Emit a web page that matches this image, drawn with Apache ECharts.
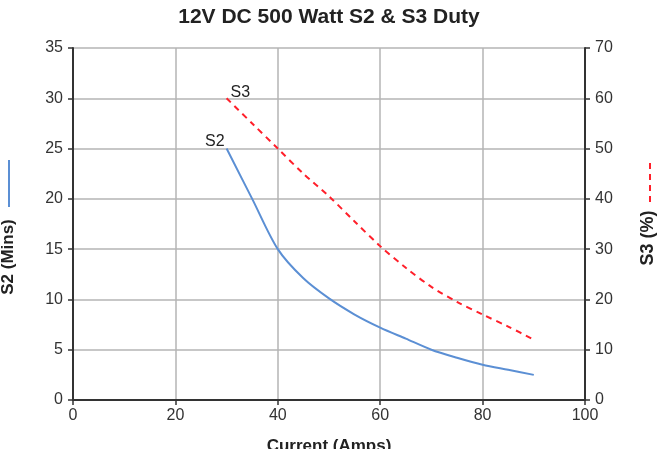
<!DOCTYPE html>
<html><head><meta charset="utf-8">
<script src="https://cdn.jsdelivr.net/npm/echarts@6/dist/echarts.min.js"></script>
<style>html,body{margin:0;padding:0;background:#fff}#c{width:658px;height:449px}</style>
</head><body><div id="c"></div>
<script>
const currentAmps = [30, 35, 40, 45, 50, 55, 60, 65, 70, 75, 80, 85, 90];
const s2Mins =      [25, 20, 15, 12.1, 10.1, 8.5, 7.2, 6.1, 5, 4.2, 3.5, 3, 2.5];
const s3Percent =   [60, 55, 50, 45, 40.5, 35.5, 30.6, 26.3, 22.5, 19.5, 17, 14.6, 12];
const xTicks = [0, 20, 40, 60, 80, 100];
const leftTicks = [0, 5, 10, 15, 20, 25, 30, 35];
const rightTicks = [0, 10, 20, 30, 40, 50, 60, 70];

const chart = echarts.init(document.getElementById('c'));
const font = 'Liberation Sans, Arial, sans-serif';
const s2Color = '#5b8fd4', s3Color = '#ff1f2a';
function pairs(xs, ys){ return xs.map((x,i)=>[x, ys[i]]); }
chart.setOption({
  animation: false,
  title: { text: '12V DC 500 Watt S2 & S3 Duty', left: 'center', top: 2,
    textStyle: { fontFamily: font, fontSize: 21, fontWeight: 'bold', color: '#222' } },
  grid: { left: 73, right: 73, top: 48, bottom: 49, outerBoundsMode: 'none', containLabel: false },
  xAxis: { type: 'value', min: xTicks[0], max: xTicks[xTicks.length-1], interval: 20,
    name: 'Current (Amps)', nameLocation: 'middle', nameGap: 38,
    nameTextStyle: { fontFamily: font, fontSize: 17, fontWeight: 'bold', color: '#222' },
    axisLine: { lineStyle: { color: '#333', width: 2 } },
    axisTick: { show: true, length: 5, lineStyle: { color: '#333', width: 1.5 } },
    axisLabel: { fontFamily: font, fontSize: 16, color: '#333', margin: 8 },
    splitLine: { show: true, lineStyle: { color: '#b4b4b4', width: 1.5 } } },
  yAxis: [
    { type: 'value', min: leftTicks[0], max: leftTicks[leftTicks.length-1], interval: 5, position: 'left',
      axisLine: { show: true, lineStyle: { color: '#333', width: 2 } },
      axisTick: { show: true, length: 5, lineStyle: { color: '#333', width: 1.5 } },
      axisLabel: { fontFamily: font, fontSize: 16, color: '#333', margin: 10 },
      splitLine: { show: true, lineStyle: { color: '#b4b4b4', width: 1.5 } } },
    { type: 'value', min: rightTicks[0], max: rightTicks[rightTicks.length-1], interval: 10, position: 'right',
      axisLine: { show: true, lineStyle: { color: '#333', width: 2 } },
      axisTick: { show: true, length: 5, lineStyle: { color: '#333', width: 1.5 } },
      axisLabel: { fontFamily: font, fontSize: 16, color: '#333', margin: 10 },
      splitLine: { show: false } }
  ],
  graphic: [
    { type: 'text', x: 8, y: 257, rotation: Math.PI/2, style: { text: 'S2 (Mins)', fontFamily: font, fontSize: 17, fontWeight: 'bold', fill: '#222', textAlign: 'center', textVerticalAlign: 'middle' } },
    { type: 'line', shape: { x1: 9, y1: 160, x2: 9, y2: 207 }, style: { stroke: s2Color, lineWidth: 2 } },
    { type: 'text', x: 648, y: 238, rotation: Math.PI/2, style: { text: 'S3 (%)', fontFamily: font, fontSize: 18, fontWeight: 'bold', fill: '#222', textAlign: 'center', textVerticalAlign: 'middle' } },
    { type: 'line', shape: { x1: 650, y1: 163, x2: 650, y2: 207 }, style: { stroke: s3Color, lineWidth: 2, lineDash: [6, 5] } }
  ],
  series: [
    { name: 'S2', type: 'line', yAxisIndex: 0, data: pairs(currentAmps, s2Mins), smooth: 0.3, showSymbol: false, symbol: 'none',
      lineStyle: { color: s2Color, width: 2 },
      markPoint: { symbol: 'circle', symbolSize: 0, data: [{ coord: [currentAmps[0], s2Mins[0]], value: 'S2' }],
        label: { show: true, formatter: 'S2', position: 'left', offset: [3, -7], fontFamily: font, fontSize: 16, color: '#222' } } },
    { name: 'S3', type: 'line', yAxisIndex: 1, data: pairs(currentAmps, s3Percent), smooth: 0.3, showSymbol: false, symbol: 'none',
      lineStyle: { color: s3Color, width: 2, type: [6, 5] },
      markPoint: { symbol: 'circle', symbolSize: 0, data: [{ coord: [currentAmps[0], s3Percent[0]], value: 'S3' }],
        label: { show: true, formatter: 'S3', position: 'right', offset: [-1, -6], fontFamily: font, fontSize: 16, color: '#222' } } }
  ]
});
</script></body></html>
